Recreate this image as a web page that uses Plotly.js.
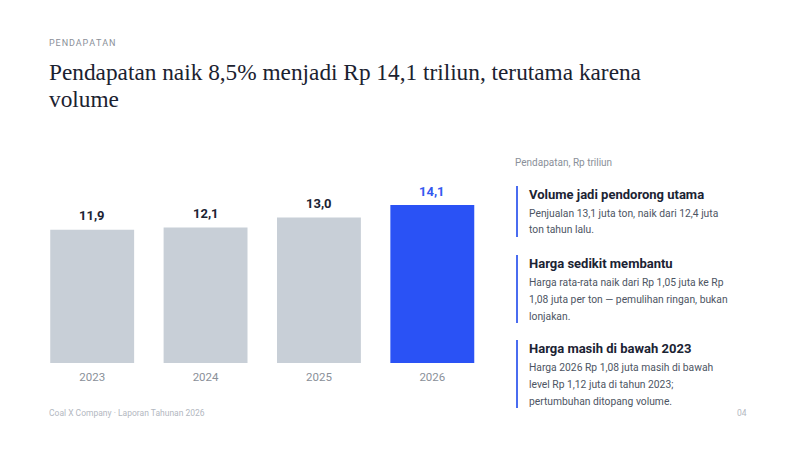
<!DOCTYPE html>
<html>
<head>
<meta charset="utf-8">
<script src="https://cdn.plot.ly/plotly-3.0.1.min.js"></script>
<style>html,body{margin:0;padding:0;background:#fff;}#chart{width:800px;height:450px;}</style>
</head>
<body>
<div id="chart"></div>
<script>
const years = ['2023', '2024', '2025', '2026'];
const revenue = [11.9, 12.1, 13.0, 14.1];
const barColors = ['#c8cfd7', '#c8cfd7', '#c8cfd7', '#2a52f5'];
const labelColors = ['#1b2333', '#1b2333', '#1b2333', '#3358f0'];

const kicker = 'PENDAPATAN';
const titleLines = ['Pendapatan naik 8,5% menjadi Rp 14,1 triliun, terutama karena', 'volume'];
const unitLabel = 'Pendapatan, Rp triliun';
const notes = [
  {head: 'Volume jadi pendorong utama', body: ['Penjualan 13,1 juta ton, naik dari 12,4 juta', 'ton tahun lalu.']},
  {head: 'Harga sedikit membantu', body: ['Harga rata-rata naik dari Rp 1,05 juta ke Rp', '1,08 juta per ton — pemulihan ringan, bukan', 'lonjakan.']},
  {head: 'Harga masih di bawah 2023', body: ['Harga 2026 Rp 1,08 juta masih di bawah', 'level Rp 1,12 juta di tahun 2023;', 'pertumbuhan ditopang volume.']}
];
const footer = 'Coal X Company · Laporan Tahunan 2026';
const pageNo = '04';

const W = 800, H = 450;
const px = x => x / W;
const py = y => 1 - y / H;
const SANS = 'Roboto, "Noto Sans", sans-serif';
const SERIF = '"Liberation Serif", "DejaVu Serif", serif';

const annotations = [];
const shapes = [];

function txt(x, y, text, size, color, opts) {
  annotations.push(Object.assign({
    xref: 'paper', yref: 'paper', x: px(x - 2), y: py(y), xanchor: 'left', yanchor: 'middle',
    text: text, showarrow: false, borderpad: 0, font: {family: SANS, size: size, color: color}
  }, opts || {}));
}

txt(50, 43, kicker.split('').join('\u200a'), 9, '#8a9099');
txt(50, 72, titleLines[0], 23.3, '#1b2230', {font: {family: SERIF, size: 23.3, color: '#1b2230'}});
txt(50, 99, titleLines[1], 23.3, '#1b2230', {font: {family: SERIF, size: 23.3, color: '#1b2230'}});
txt(516, 162, unitLabel, 10, '#8a9099');
txt(50, 413, footer, 8.5, '#b3b8bf');
txt(750, 413, pageNo, 8.5, '#b3b8bf', {xanchor: 'right'});

const headY = [194, 263, 348];
notes.forEach((n, i) => {
  const y0 = headY[i];
  txt(530, y0, '<b>' + n.head + '</b>', 13, '#1b2333');
  n.body.forEach((line, j) => txt(530, y0 + 19 + j * 17, line, 10.3, '#4d5563'));
  const bottom = y0 + 19 + (n.body.length - 1) * 17 + 7;
  shapes.push({type: 'line', xref: 'paper', yref: 'paper', x0: px(517), x1: px(517), y0: py(y0 - 8), y1: py(bottom), line: {color: '#4a6cf0', width: 2}});
});

years.forEach((yr, i) => {
  annotations.push({
    xref: 'x', yref: 'y', x: i, y: revenue[i], yshift: 14, yanchor: 'middle',
    text: '<b>' + revenue[i].toFixed(1).replace('.', ',') + '</b>', showarrow: false,
    font: {family: SANS, size: 13, color: labelColors[i]}
  });
});

const trace = {
  type: 'bar', x: years, y: revenue,
  marker: {color: barColors},
  hoverinfo: 'skip'
};

const layout = {
  width: W, height: H,
  margin: {l: 0, r: 0, t: 0, b: 0},
  paper_bgcolor: '#ffffff', plot_bgcolor: '#ffffff',
  showlegend: false,
  bargap: 0.26,
  separators: ',.',
  xaxis: {
    domain: [px(35.5), px(489)], type: 'category', range: [-0.5, 3.5],
    showgrid: false, zeroline: false, showline: false, ticks: '', ticklabelstandoff: 5,
    tickfont: {family: SANS, size: 11.5, color: '#8a9099'}
  },
  yaxis: {
    domain: [py(363), py(183)], range: [0, 16.07],
    showgrid: false, zeroline: false, showline: false, showticklabels: false, ticks: ''
  },
  annotations: annotations,
  shapes: shapes
};

Plotly.newPlot('chart', [trace], layout, {staticPlot: true, displayModeBar: false});
</script>
</body>
</html>
